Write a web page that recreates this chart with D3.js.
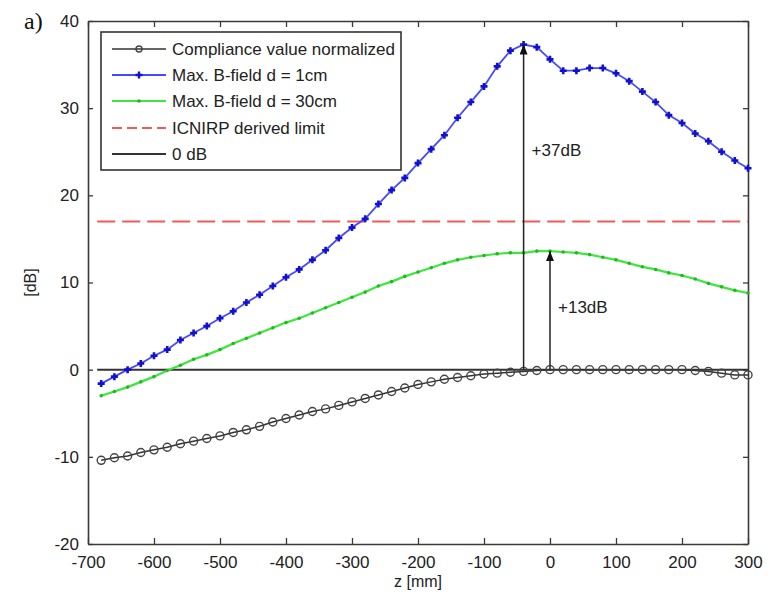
<!DOCTYPE html>
<html>
<head>
<meta charset="utf-8">
<script src="https://cdnjs.cloudflare.com/ajax/libs/d3/7.8.5/d3.min.js"></script>
<style>
    body { margin: 0; background: #fff; }
    svg { display: block; font-family: "Liberation Sans", Arial, sans-serif; }
</style>
</head>
<body>
<svg id="chart" width="771" height="592"></svg>
<script>
// z positions of the samples [mm]
const zValues = [-680, -660, -640, -620, -600, -580, -560, -540, -520, -500,
    -480, -460, -440, -420, -400, -380, -360, -340, -320, -300,
    -280, -260, -240, -220, -200, -180, -160, -140, -120, -100,
    -80, -60, -40, -20, 0, 20, 40, 60, 80, 100,
    120, 140, 160, 180, 200, 220, 240, 260, 280, 300];

const complianceDb = [-10.4, -10.1, -9.9, -9.5, -9.2, -8.9, -8.5, -8.2, -7.9, -7.6,
    -7.2, -6.9, -6.5, -6.0, -5.6, -5.2, -4.8, -4.5, -4.1, -3.7,
    -3.3, -2.9, -2.5, -2.1, -1.7, -1.4, -1.1, -0.9, -0.7, -0.5,
    -0.4, -0.3, -0.2, -0.1, 0.0, 0.0, 0.0, 0.0, 0.0, 0.0,
    0.0, 0.0, 0.0, 0.0, 0.0, -0.1, -0.2, -0.4, -0.6, -0.6];

const bField1cm = [-1.6, -0.8, 0.0, 0.7, 1.6, 2.3, 3.4, 4.2, 5.0, 5.9,
    6.7, 7.7, 8.6, 9.6, 10.6, 11.5, 12.6, 13.7, 15.1, 16.3,
    17.3, 19.0, 20.6, 22.0, 23.7, 25.3, 26.9, 28.9, 30.7, 32.5,
    34.8, 36.6, 37.3, 37.0, 35.6, 34.3, 34.3, 34.6, 34.6, 34.0,
    33.1, 31.9, 30.7, 29.2, 28.3, 27.1, 26.2, 25.0, 24.0, 23.1];

const bField30cm = [-3.0, -2.5, -2.0, -1.4, -0.8, -0.1, 0.5, 1.2, 1.7, 2.3,
    3.0, 3.6, 4.2, 4.8, 5.4, 5.9, 6.5, 7.1, 7.7, 8.3,
    8.9, 9.6, 10.1, 10.7, 11.2, 11.7, 12.2, 12.6, 12.9, 13.1,
    13.3, 13.4, 13.4, 13.6, 13.6, 13.5, 13.4, 13.2, 12.9, 12.6,
    12.2, 11.8, 11.5, 11.1, 10.8, 10.4, 9.9, 9.5, 9.1, 8.8];

const icnirpLimit = 17;
const zeroDb = 0;

const xTicks = [-700, -600, -500, -400, -300, -200, -100, 0, 100, 200, 300];
const yTicks = [-20, -10, 0, 10, 20, 30, 40];

// annotation arrows
const arrows = [
    { z: -40, from: 0, to: 37.3, label: "+37dB", labelY: 24.5 },
    { z: 0, from: 0, to: 13.6, label: "+13dB", labelY: 6.5 }
];

const legendItems = ["Compliance value normalized", "Max. B-field d = 1cm", "Max. B-field d = 30cm", "ICNIRP derived limit", "0 dB"];

const margin = { top: 21, right: 23, bottom: 48, left: 88 };
const svg = d3.select("#chart");
const width = +svg.attr("width") - margin.left - margin.right;
const height = +svg.attr("height") - margin.top - margin.bottom;

const chartArea = svg.append("g")
    .attr("transform", `translate(${margin.left},${margin.top})`);

const xScale = d3.scaleLinear().domain([-700, 300]).range([0, width]);
const yScale = d3.scaleLinear().domain([-20, 40]).range([height, 0]);

const axisColor = "#3a3a3a";
const textColor = "#222";
const fontSize = "17px";

svg.append("defs").append("marker")
    .attr("id", "arrowhead")
    .attr("viewBox", "0 0 8 10")
    .attr("refX", 4).attr("refY", 0)
    .attr("markerWidth", 8).attr("markerHeight", 10)
    .attr("markerUnits", "userSpaceOnUse")
    .attr("orient", "0")
    .append("path")
    .attr("d", "M0,10 L4,0 L8,10 Z")
    .attr("fill", "#111");

// axes, ticks pointing inward on all sides
const plainFormat = d => String(d);
const xAxisBottom = d3.axisBottom(xScale).tickValues(xTicks).tickSize(-6).tickPadding(12).tickSizeOuter(0).tickFormat(plainFormat);
const xAxisTop = d3.axisTop(xScale).tickValues(xTicks).tickSize(-6).tickFormat("").tickSizeOuter(0);
const yAxisLeft = d3.axisLeft(yScale).tickValues(yTicks).tickSize(-5).tickPadding(9).tickSizeOuter(0).tickFormat(plainFormat);
const yAxisRight = d3.axisRight(yScale).tickValues(yTicks).tickSize(-5).tickFormat("").tickSizeOuter(0);

chartArea.append("g").attr("transform", `translate(0,${height})`).call(xAxisBottom);
chartArea.append("g").call(xAxisTop);
chartArea.append("g").call(yAxisLeft);
chartArea.append("g").attr("transform", `translate(${width},0)`).call(yAxisRight);

chartArea.selectAll(".domain").attr("stroke", axisColor).attr("stroke-width", 1.6);
chartArea.selectAll(".tick line").attr("stroke", axisColor).attr("stroke-width", 1.3);
chartArea.selectAll(".tick text")
    .attr("fill", textColor)
    .style("font-size", fontSize)
    .style("font-family", "'Liberation Sans', Arial, sans-serif");

const rows = zValues.map((z, i) => ({
    z: z,
    compliance: complianceDb[i],
    b1: bField1cm[i],
    b30: bField30cm[i]
}));

const lineOf = key => d3.line().x(d => xScale(d.z)).y(d => yScale(d[key]));

// ICNIRP limit
chartArea.append("line")
    .attr("x1", xScale(zValues[0]) - 4).attr("x2", xScale(zValues[zValues.length - 1]))
    .attr("y1", yScale(icnirpLimit)).attr("y2", yScale(icnirpLimit))
    .attr("stroke", "#f05a5a").attr("stroke-width", 2.2)
    .attr("stroke-dasharray", "18,7");

// 0 dB line
chartArea.append("line")
    .attr("x1", xScale(zValues[0]) - 4).attr("x2", xScale(zValues[zValues.length - 1]))
    .attr("y1", yScale(zeroDb)).attr("y2", yScale(zeroDb))
    .attr("stroke", "#333").attr("stroke-width", 2);

// green series
chartArea.append("path").datum(rows)
    .attr("fill", "none").attr("stroke", "#3ee63e").attr("stroke-width", 2.2)
    .attr("d", lineOf("b30"));
chartArea.selectAll(".b30-marker").data(rows).join("circle")
    .attr("class", "b30-marker")
    .attr("cx", d => xScale(d.z)).attr("cy", d => yScale(d.b30))
    .attr("r", 1.8).attr("fill", "#22b822");

// blue series
chartArea.append("path").datum(rows)
    .attr("fill", "none").attr("stroke", "#4848ff").attr("stroke-width", 1.8)
    .attr("d", lineOf("b1"));
chartArea.selectAll(".b1-marker").data(rows).join("path")
    .attr("class", "b1-marker")
    .attr("transform", d => `translate(${xScale(d.z)},${yScale(d.b1)})`)
    .attr("d", "M-3.5,0H3.5M0,-3.5V3.5")
    .attr("stroke", "#1010d0").attr("stroke-width", 2.6);

// compliance series
chartArea.append("path").datum(rows)
    .attr("fill", "none").attr("stroke", "#333").attr("stroke-width", 1.5)
    .attr("d", lineOf("compliance"));
chartArea.selectAll(".comp-marker").data(rows).join("circle")
    .attr("class", "comp-marker")
    .attr("cx", d => xScale(d.z)).attr("cy", d => yScale(d.compliance))
    .attr("r", 4).attr("fill", "none").attr("stroke", "#444").attr("stroke-width", 1.4);

// arrows and labels
arrows.forEach(a => {
    chartArea.append("line")
        .attr("x1", xScale(a.z)).attr("x2", xScale(a.z))
        .attr("y1", yScale(a.from)).attr("y2", yScale(a.to))
        .attr("stroke", "#222").attr("stroke-width", 1.5)
        .attr("marker-end", "url(#arrowhead)");
    chartArea.append("text")
        .attr("x", xScale(a.z) + 8).attr("y", yScale(a.labelY))
        .attr("fill", textColor)
        .style("font-size", fontSize)
        .text(a.label);
});

// legend
const legend = svg.append("g").attr("transform", "translate(101,32)");
legend.append("rect")
    .attr("width", 300).attr("height", 138)
    .attr("fill", "#fff").attr("stroke", "#333").attr("stroke-width", 1.6);

const legendRowY = [17, 43, 69, 96, 122];
legendItems.forEach((label, i) => {
    const row = legend.append("g").attr("transform", `translate(0,${legendRowY[i]})`);
    const line = row.append("line").attr("x1", 11).attr("x2", 65).attr("y1", 0).attr("y2", 0);
    if (i === 0) {
        line.attr("stroke", "#333").attr("stroke-width", 1.5);
        row.append("circle").attr("cx", 38).attr("cy", 0).attr("r", 3).attr("fill", "none").attr("stroke", "#444").attr("stroke-width", 1.4);
    } else if (i === 1) {
        line.attr("stroke", "#4848ff").attr("stroke-width", 1.8);
        row.append("path").attr("d", "M34.5,0H41.5M38,-3.5V3.5").attr("stroke", "#1010d0").attr("stroke-width", 2.4);
    } else if (i === 2) {
        line.attr("stroke", "#3ee63e").attr("stroke-width", 2.2);
        row.append("circle").attr("cx", 38).attr("cy", 0).attr("r", 1.8).attr("fill", "#22b822");
    } else if (i === 3) {
        line.attr("stroke", "#f05a5a").attr("stroke-width", 2.2).attr("stroke-dasharray", "10,5");
    } else {
        line.attr("stroke", "#333").attr("stroke-width", 2);
    }
    row.append("text")
        .attr("x", 71).attr("y", 6)
        .attr("fill", textColor)
        .style("font-size", fontSize)
        .text(label);
});

// axis titles
svg.append("text")
    .attr("x", margin.left + width / 2).attr("y", 587)
    .attr("text-anchor", "middle")
    .attr("fill", textColor)
    .style("font-size", "16px")
    .text("z [mm]");

svg.append("text")
    .attr("transform", `rotate(-90)`)
    .attr("x", -(margin.top + height / 2)).attr("y", 36)
    .attr("text-anchor", "middle")
    .attr("fill", textColor)
    .style("font-size", "16px")
    .text("[dB]");

svg.append("text")
    .attr("x", 24).attr("y", 29)
    .attr("fill", "#111")
    .style("font-family", "'Liberation Serif', 'Times New Roman', serif")
    .style("font-size", "24px")
    .text("a)");
</script>
</body>
</html>
